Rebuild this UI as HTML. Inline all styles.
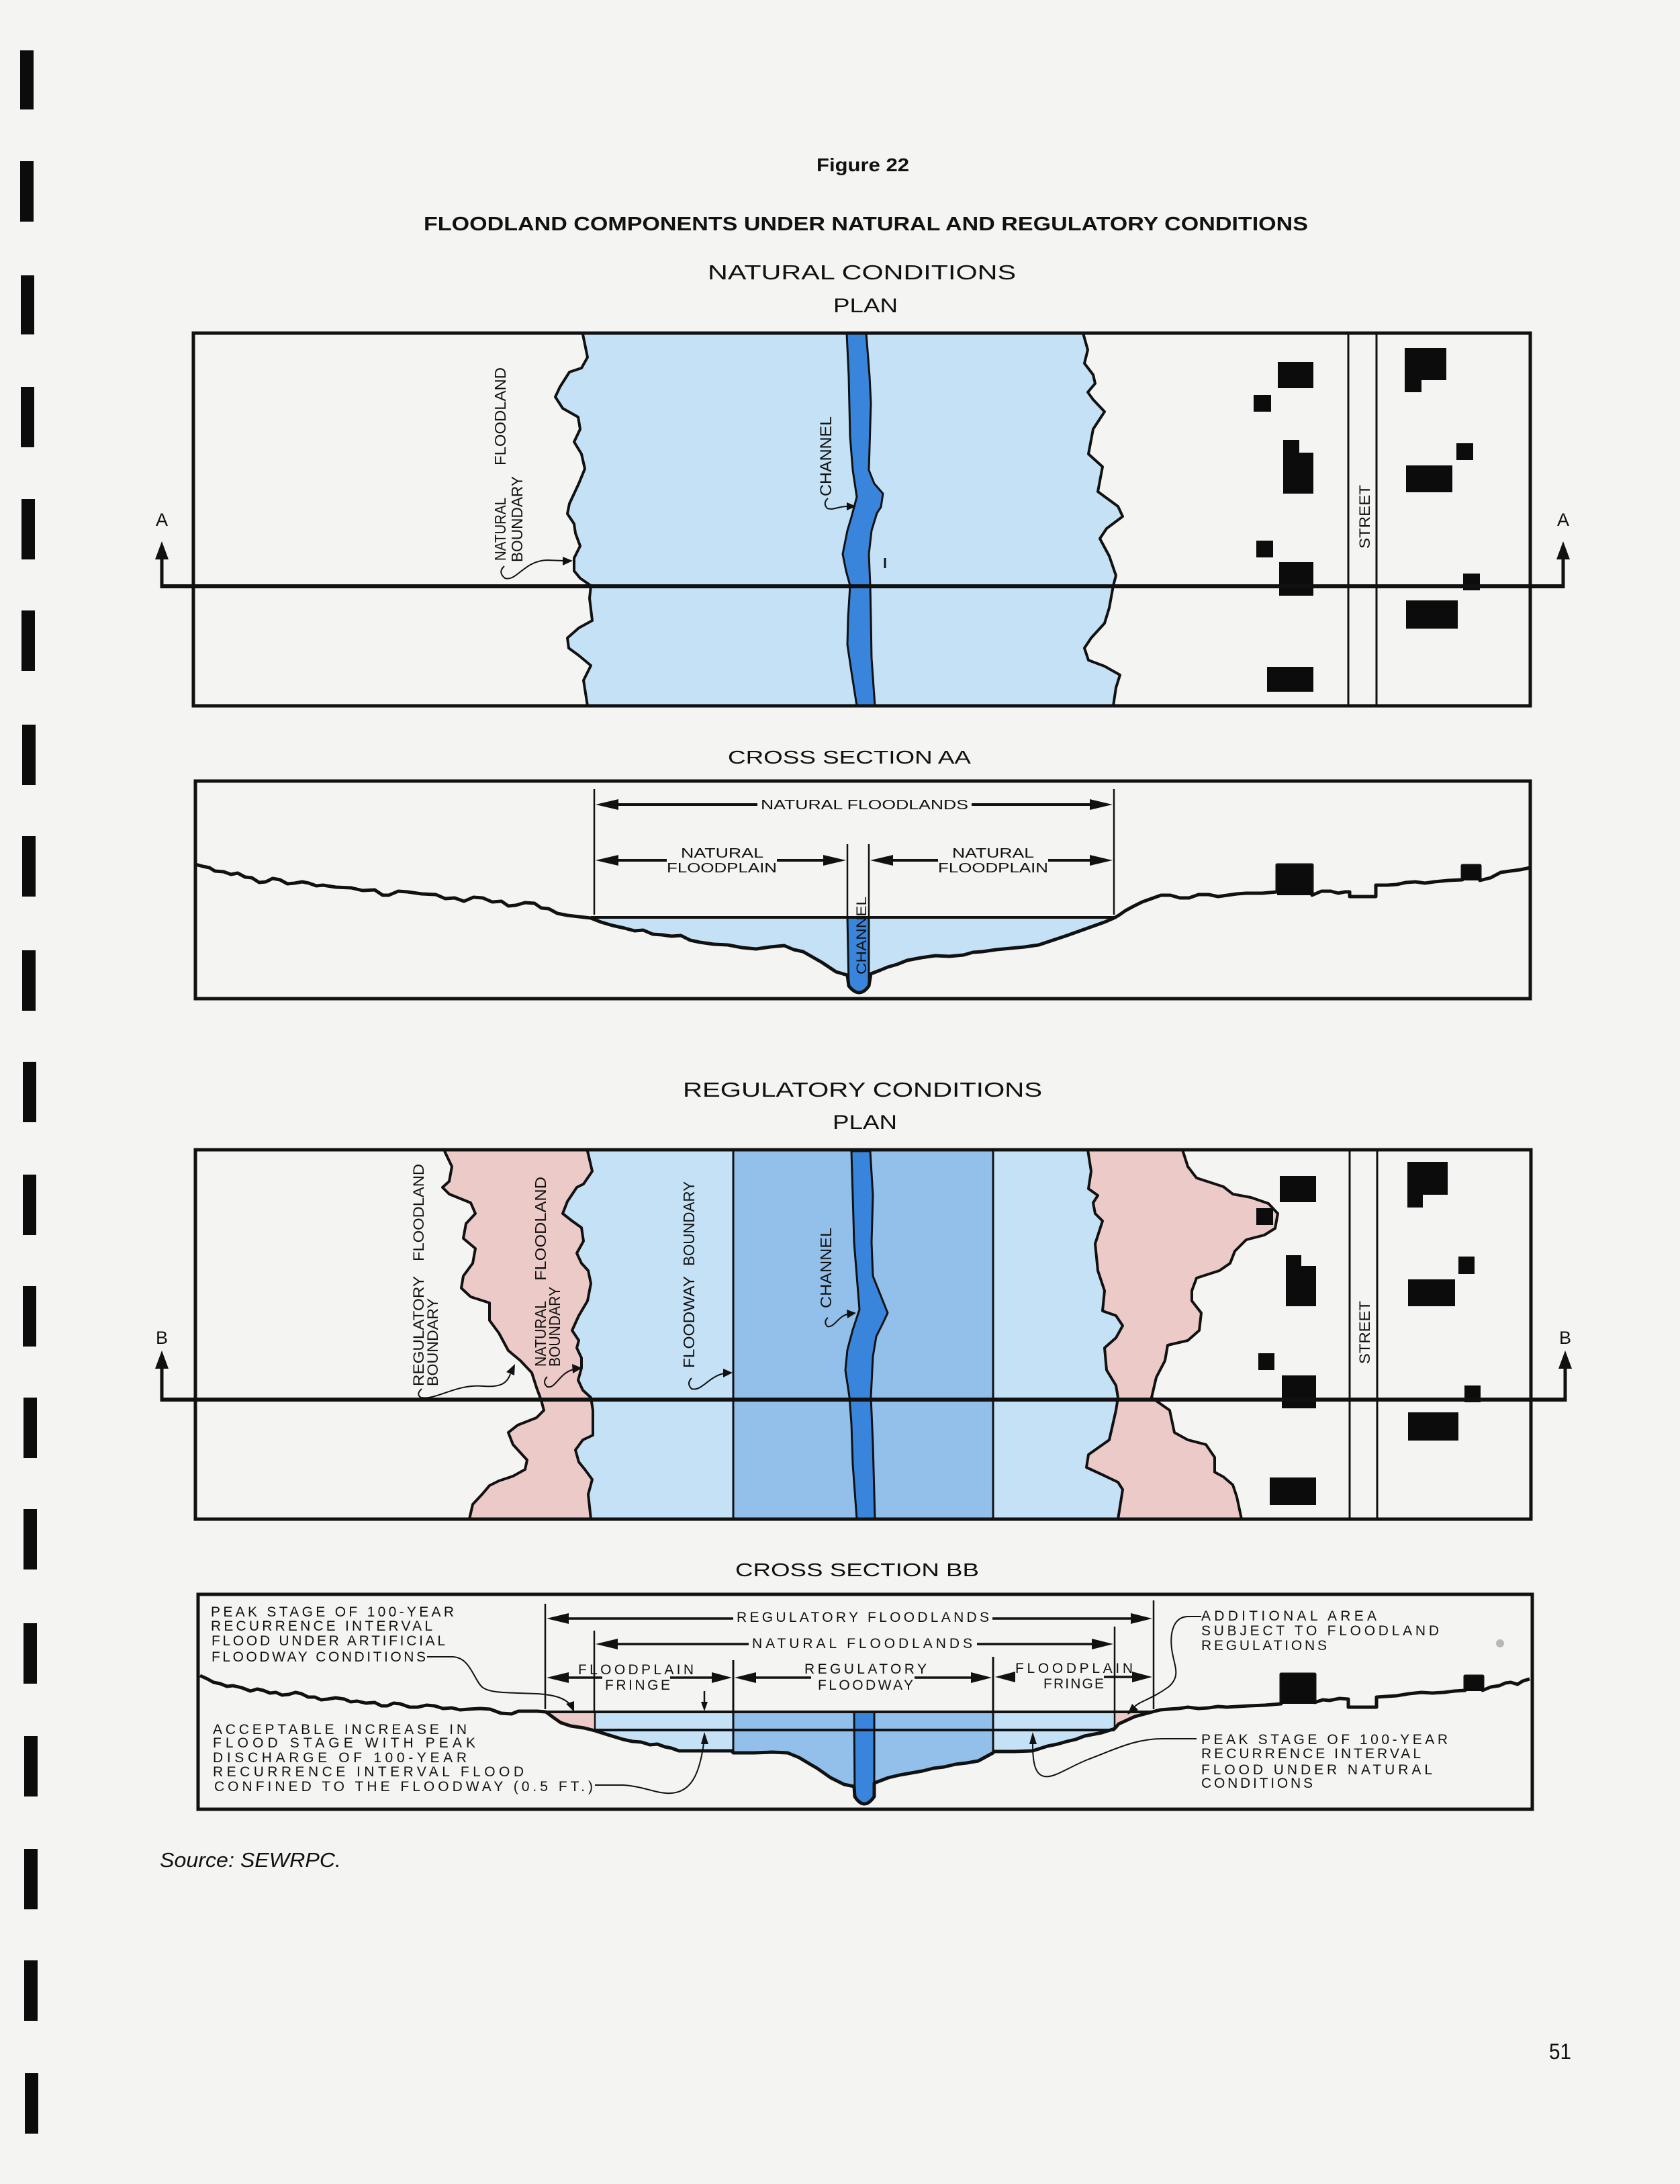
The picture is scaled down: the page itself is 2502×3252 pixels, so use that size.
<!DOCTYPE html>
<html><head><meta charset="utf-8">
<style>
html,body{margin:0;padding:0;background:#f4f4f2;}
svg{display:block}
text{font-family:"Liberation Sans",sans-serif;fill:#111}
</style></head><body>
<svg width="2502" height="3252" viewBox="0 0 2502 3252" xmlns="http://www.w3.org/2000/svg">
<rect width="2502" height="3252" fill="#f4f4f2"/>

<!-- binding bars -->
<g fill="#0c0c0c">
<rect x="30" y="75" width="20" height="88"/>
<rect x="30" y="240" width="20" height="90"/>
<rect x="31" y="410" width="20" height="88"/>
<rect x="31" y="576" width="20" height="90"/>
<rect x="32" y="743" width="20" height="90"/>
<rect x="32" y="909" width="20" height="90"/>
<rect x="33" y="1079" width="20" height="90"/>
<rect x="33" y="1245" width="20" height="90"/>
<rect x="33" y="1415" width="20" height="90"/>
<rect x="34" y="1581" width="20" height="90"/>
<rect x="34" y="1749" width="20" height="90"/>
<rect x="34" y="1915" width="20" height="90"/>
<rect x="35" y="2081" width="20" height="90"/>
<rect x="35" y="2247" width="20" height="90"/>
<rect x="35" y="2417" width="20" height="90"/>
<rect x="36" y="2585" width="20" height="90"/>
<rect x="36" y="2753" width="20" height="90"/>
<rect x="36" y="2919" width="20" height="90"/>
<rect x="37" y="3087" width="20" height="90"/>
</g>

<!-- titles -->
<text x="1216" y="255" font-size="28" font-weight="bold" textLength="138" lengthAdjust="spacingAndGlyphs">Figure 22</text>
<text x="631" y="343" font-size="29" font-weight="bold" textLength="1317" lengthAdjust="spacingAndGlyphs">FLOODLAND COMPONENTS UNDER NATURAL AND REGULATORY CONDITIONS</text>
<text x="1054" y="416" font-size="31" textLength="459" lengthAdjust="spacingAndGlyphs">NATURAL CONDITIONS</text>
<text x="1241" y="465" font-size="30" textLength="96" lengthAdjust="spacingAndGlyphs">PLAN</text>

<!-- ============ PLAN A ============ -->
<path d="M868,498 L875,532 L866,548 L848,554 L834,576 L827,591 L838,608 L861,621 L864,639 L855,658 L866,676 L871,698 L862,720 L848,750 L845,765 L855,780 L857,794 L864,813 L855,831 L855,850 L864,861 L880,872 L878,891 L882,924 L862,935 L845,950 L847,965 L862,976 L880,991 L869,1013 L875,1051 L1658,1051 L1662,1024 L1668,1005 L1645,992 L1621,983 L1615,965 L1625,950 L1645,928 L1652,905 L1658,872 L1662,857 L1652,828 L1638,802 L1648,787 L1672,769 L1665,754 L1635,732 L1642,695 L1621,676 L1628,639 L1645,613 L1628,595 L1620,584 L1631,571 L1628,558 L1615,541 L1620,521 L1613,496 Z" fill="#c4e1f5"/>
<g fill="none" stroke="#111" stroke-width="4" stroke-linejoin="round">
<path d="M868,498 L875,532 L866,548 L848,554 L834,576 L827,591 L838,608 L861,621 L864,639 L855,658 L866,676 L871,698 L862,720 L848,750 L845,765 L855,780 L857,794 L864,813 L855,831 L855,850 L864,861 L880,872 L878,891 L882,924 L862,935 L845,950 L847,965 L862,976 L880,991 L869,1013 L875,1051"/>
<path d="M1613,496 L1620,521 L1615,541 L1628,558 L1631,571 L1620,584 L1628,595 L1645,613 L1628,639 L1621,676 L1642,695 L1635,732 L1665,754 L1672,769 L1648,787 L1638,802 L1652,828 L1662,857 L1658,872 L1652,905 L1645,928 L1625,950 L1615,965 L1621,983 L1645,992 L1668,1005 L1662,1024 L1658,1051"/>
</g>
<path d="M1261,496 L1264,560 L1266,650 L1270,700 L1276,740 L1268,770 L1262,790 L1255,825 L1260,850 L1266,872 L1263,920 L1262,960 L1268,1000 L1276,1051 L1303,1051 L1298,980 L1297,920 L1296,872 L1294,825 L1298,790 L1306,764 L1312,755 L1315,735 L1302,720 L1294,700 L1297,600 L1295,560 L1290,496 Z" fill="#3a85dc" stroke="#111" stroke-width="3" stroke-linejoin="round"/>
<line x1="1318" y1="831" x2="1318" y2="846" stroke="#111" stroke-width="3"/>

<!-- street A -->
<line x1="2008" y1="496" x2="2008" y2="1051" stroke="#111" stroke-width="3"/>
<line x1="2050" y1="496" x2="2050" y2="1051" stroke="#111" stroke-width="3"/>
<text transform="translate(2040,817) rotate(-90)" font-size="22" textLength="95" lengthAdjust="spacingAndGlyphs">STREET</text>

<!-- buildings A -->
<g fill="#0c0c0c">
<rect x="1903" y="539" width="53" height="39"/>
<rect x="1867" y="588" width="26" height="25"/>
<rect x="1911" y="655" width="24" height="20"/>
<rect x="1911" y="674" width="45" height="61"/>
<rect x="1871" y="805" width="25" height="25"/>
<rect x="1905" y="837" width="51" height="50"/>
<rect x="1887" y="993" width="69" height="37"/>
<rect x="2092" y="518" width="62" height="48"/>
<rect x="2092" y="565" width="25" height="19"/>
<rect x="2169" y="660" width="25" height="25"/>
<rect x="2094" y="693" width="69" height="40"/>
<rect x="2179" y="854" width="25" height="25"/>
<rect x="2094" y="894" width="77" height="42"/>
</g>

<!-- section line A -->
<g stroke="#111" fill="none">
<line x1="239" y1="873" x2="2328" y2="873" stroke-width="6"/>
<line x1="241" y1="876" x2="241" y2="825" stroke-width="5"/>
<line x1="2328" y1="876" x2="2328" y2="825" stroke-width="5"/>
</g>
<polygon points="241,806 231,833 251,833" fill="#111"/>
<polygon points="2328,806 2318,833 2338,833" fill="#111"/>
<text x="241" y="783" font-size="27" text-anchor="middle">A</text>
<text x="2328" y="783" font-size="27" text-anchor="middle">A</text>

<!-- labels plan A -->
<text transform="translate(753,835) rotate(-90)" font-size="23" textLength="94" lengthAdjust="spacingAndGlyphs">NATURAL</text>
<text transform="translate(753,693) rotate(-90)" font-size="23" textLength="146" lengthAdjust="spacingAndGlyphs">FLOODLAND</text>
<text transform="translate(778,837) rotate(-90)" font-size="23" textLength="128" lengthAdjust="spacingAndGlyphs">BOUNDARY</text>
<path d="M751,843 Q741,852 752,861 C770,866 780,835 815,834 L840,835" fill="none" stroke="#111" stroke-width="2"/>
<polygon points="853,835 838,829 838,842" fill="#111"/>
<text transform="translate(1238,739) rotate(-90)" font-size="24" textLength="119" lengthAdjust="spacingAndGlyphs">CHANNEL</text>
<path d="M1233,742 Q1225,749 1232,757 C1242,760 1248,754 1262,754" fill="none" stroke="#111" stroke-width="2"/>
<polygon points="1275,754 1261,748 1261,760" fill="#111"/>

<rect x="288" y="496" width="1991" height="555" fill="none" stroke="#111" stroke-width="5"/>

<!-- ============ CROSS SECTION AA ============ -->
<text x="1084" y="1137" font-size="28" textLength="362" lengthAdjust="spacingAndGlyphs">CROSS SECTION AA</text>

<path d="M880,1366 L1663,1366 L1659,1367 L1645,1373 L1617,1383 L1589,1393 L1547,1407 L1505,1412 L1463,1417 L1435,1422 L1393,1423 L1351,1430 L1322,1440 L1297,1450 L1294,1452 L1262,1452 L1245,1447 L1224,1433 L1196,1417 L1168,1408 L1126,1413 L1084,1407 L1042,1403 L1014,1393 L986,1392 L958,1385 L930,1382 L895,1373 Z" fill="#c4e1f5"/>
<path d="M1262,1366 L1294,1366 L1294,1468 Q1280,1488 1264,1468 Z" fill="#3a85dc" stroke="#111" stroke-width="3"/>
<line x1="880" y1="1366" x2="1663" y2="1366" stroke="#111" stroke-width="4"/>
<path d="M291,1287 L302,1290 L312,1292 L320,1297 L333,1298 L344,1302 L354,1300 L365,1306 L375,1307 L386,1314 L396,1313 L406,1308 L417,1310 L428,1316 L439,1315 L450,1313 L460,1315 L471,1319 L481,1318 L500,1321 L523,1322 L540,1326 L558,1325 L570,1333 L579,1333 L593,1327 L607,1328 L628,1331 L649,1332 L663,1338 L677,1337 L691,1342 L705,1336 L719,1337 L733,1343 L747,1342 L757,1349 L768,1348 L782,1344 L796,1345 L806,1352 L817,1353 L830,1360 L845,1363 L880,1367 L895,1373 L912,1378 L930,1382 L945,1386 L958,1385 L972,1391 L986,1392 L1000,1394 L1014,1393 L1028,1400 L1042,1403 L1063,1406 L1084,1407 L1105,1411 L1126,1413 L1147,1410 L1168,1408 L1182,1414 L1196,1417 L1210,1425 L1224,1433 L1245,1447 L1262,1452 L1264,1468 Q1280,1488 1294,1468 L1297,1450 L1310,1445 L1322,1440 L1336,1436 L1351,1430 L1372,1426 L1393,1423 L1414,1424 L1435,1422 L1449,1418 L1463,1417 L1484,1414 L1505,1412 L1526,1410 L1547,1407 L1568,1400 L1589,1393 L1603,1388 L1617,1383 L1631,1378 L1645,1373 L1659,1367 L1666,1363 L1676,1356 L1687,1350 L1701,1343 L1715,1338 L1729,1333 L1743,1333 L1757,1337 L1771,1337 L1785,1332 L1800,1332 L1814,1335 L1828,1333 L1842,1331 L1856,1330 L1880,1330 L1902,1328 L1902,1288 L1954,1288 L1954,1333 L1968,1327 L1982,1327 L1993,1330 L2003,1328 L2010,1328 L2010,1335 L2049,1335 L2049,1318 L2066,1318 L2080,1317 L2094,1314 L2108,1313 L2122,1315 L2136,1313 L2157,1311 L2178,1310 L2178,1289 L2204,1289 L2204,1311 L2220,1307 L2235,1299 L2249,1297 L2264,1295 L2279,1292" fill="none" stroke="#111" stroke-width="5" stroke-linejoin="round"/>
<rect x="1902" y="1288" width="52" height="45" fill="#0c0c0c"/>
<rect x="2178" y="1289" width="26" height="22" fill="#0c0c0c"/>

<!-- dims AA -->
<g stroke="#111" stroke-width="2.5">
<line x1="885" y1="1175" x2="885" y2="1362"/>
<line x1="1659" y1="1175" x2="1659" y2="1362"/>
<line x1="1262" y1="1257" x2="1262" y2="1366"/>
<line x1="1294" y1="1257" x2="1294" y2="1366"/>
<line x1="918" y1="1198" x2="1128" y2="1198" stroke-width="4"/>
<line x1="1447" y1="1198" x2="1626" y2="1198" stroke-width="4"/>
<line x1="918" y1="1281" x2="993" y2="1281" stroke-width="4"/>
<line x1="1157" y1="1281" x2="1229" y2="1281" stroke-width="4"/>
<line x1="1327" y1="1281" x2="1397" y2="1281" stroke-width="4"/>
<line x1="1561" y1="1281" x2="1626" y2="1281" stroke-width="4"/>
</g>
<g fill="#111">
<polygon points="887,1198 921,1190 921,1206"/>
<polygon points="1657,1198 1623,1190 1623,1206"/>
<polygon points="887,1281 921,1273 921,1289"/>
<polygon points="1260,1281 1226,1273 1226,1289"/>
<polygon points="1296,1281 1330,1273 1330,1289"/>
<polygon points="1657,1281 1623,1273 1623,1289"/>
</g>
<text x="1133" y="1205" font-size="20" textLength="309" lengthAdjust="spacingAndGlyphs">NATURAL FLOODLANDS</text>
<text x="1014" y="1277" font-size="20" textLength="123" lengthAdjust="spacingAndGlyphs">NATURAL</text>
<text x="993" y="1299" font-size="20" textLength="164" lengthAdjust="spacingAndGlyphs">FLOODPLAIN</text>
<text x="1418" y="1277" font-size="20" textLength="122" lengthAdjust="spacingAndGlyphs">NATURAL</text>
<text x="1397" y="1299" font-size="20" textLength="164" lengthAdjust="spacingAndGlyphs">FLOODPLAIN</text>
<text transform="translate(1290,1451) rotate(-90)" font-size="21" textLength="116" lengthAdjust="spacingAndGlyphs">CHANNEL</text>

<rect x="291" y="1163" width="1988" height="324" fill="none" stroke="#111" stroke-width="5"/>

<!-- ============ REGULATORY PLAN B ============ -->
<text x="1017" y="1633" font-size="31" textLength="535" lengthAdjust="spacingAndGlyphs">REGULATORY CONDITIONS</text>
<text x="1240" y="1681" font-size="30" textLength="96" lengthAdjust="spacingAndGlyphs">PLAN</text>

<path d="M662,1714 L673,1737 L669,1759 L659,1768 L669,1778 L701,1791 L708,1807 L694,1822 L690,1844 L708,1859 L704,1881 L690,1900 L687,1918 L701,1931 L729,1940 L729,1966 L743,1985 L757,2011 L775,2026 L792,2044 L799,2066 L806,2085 L810,2100 L799,2111 L771,2122 L757,2133 L764,2151 L785,2174 L782,2188 L764,2198 L743,2205 L729,2212 L718,2225 L704,2240 L699,2262 L1849,2262 L1842,2229 L1836,2211 L1822,2199 L1809,2192 L1809,2170 L1796,2151 L1769,2144 L1749,2133 L1742,2100 L1715,2081 L1722,2051 L1735,2026 L1739,2003 L1769,1996 L1786,1981 L1789,1955 L1775,1937 L1775,1922 L1782,1903 L1816,1892 L1832,1881 L1839,1863 L1856,1846 L1883,1839 L1899,1829 L1903,1807 L1889,1792 L1863,1783 L1836,1778 L1822,1767 L1782,1754 L1769,1737 L1761,1712 Z" fill="#eccac8"/>
<path d="M875,1714 L882,1744 L869,1763 L859,1768 L845,1789 L838,1807 L852,1818 L866,1828 L869,1848 L859,1866 L866,1881 L876,1892 L880,1911 L875,1937 L862,1959 L852,1981 L862,1996 L859,2007 L866,2022 L866,2037 L861,2055 L868,2070 L880,2081 L883,2100 L883,2137 L868,2144 L857,2159 L862,2177 L871,2188 L882,2203 L876,2225 L880,2262 L1665,2262 L1672,2218 L1665,2207 L1642,2196 L1618,2185 L1621,2166 L1652,2144 L1662,2100 L1665,2081 L1662,2063 L1648,2040 L1645,2007 L1662,1992 L1672,1974 L1662,1959 L1642,1952 L1645,1922 L1635,1892 L1631,1852 L1642,1818 L1631,1807 L1628,1791 L1635,1780 L1621,1770 L1625,1744 L1620,1712 Z" fill="#c4e1f5"/>
<rect x="1092" y="1712" width="387" height="550" fill="#92c0ea"/>
<g fill="none" stroke="#111" stroke-width="4" stroke-linejoin="round">
<path d="M662,1714 L673,1737 L669,1759 L659,1768 L669,1778 L701,1791 L708,1807 L694,1822 L690,1844 L708,1859 L704,1881 L690,1900 L687,1918 L701,1931 L729,1940 L729,1966 L743,1985 L757,2011 L775,2026 L792,2044 L799,2066 L806,2085 L810,2100 L799,2111 L771,2122 L757,2133 L764,2151 L785,2174 L782,2188 L764,2198 L743,2205 L729,2212 L718,2225 L704,2240 L699,2262"/>
<path d="M875,1714 L882,1744 L869,1763 L859,1768 L845,1789 L838,1807 L852,1818 L866,1828 L869,1848 L859,1866 L866,1881 L876,1892 L880,1911 L875,1937 L862,1959 L852,1981 L862,1996 L859,2007 L866,2022 L866,2037 L861,2055 L868,2070 L880,2081 L883,2100 L883,2137 L868,2144 L857,2159 L862,2177 L871,2188 L882,2203 L876,2225 L880,2262"/>
<path d="M1620,1712 L1625,1744 L1621,1770 L1635,1780 L1628,1791 L1631,1807 L1642,1818 L1631,1852 L1635,1892 L1645,1922 L1642,1952 L1662,1959 L1672,1974 L1662,1992 L1645,2007 L1648,2040 L1662,2063 L1665,2081 L1662,2100 L1652,2144 L1621,2166 L1618,2185 L1642,2196 L1665,2207 L1672,2218 L1665,2262"/>
<path d="M1761,1712 L1769,1737 L1782,1754 L1822,1767 L1836,1778 L1863,1783 L1889,1792 L1903,1807 L1899,1829 L1883,1839 L1856,1846 L1839,1863 L1832,1881 L1816,1892 L1782,1903 L1775,1922 L1775,1937 L1789,1955 L1786,1981 L1769,1996 L1739,2003 L1735,2026 L1722,2051 L1715,2081 L1742,2100 L1749,2133 L1769,2144 L1796,2151 L1809,2170 L1809,2192 L1822,2199 L1836,2211 L1842,2229 L1849,2262"/>
</g>
<line x1="1092" y1="1712" x2="1092" y2="2262" stroke="#111" stroke-width="3"/>
<line x1="1479" y1="1712" x2="1479" y2="2262" stroke="#111" stroke-width="3"/>
<path d="M1268,1714 L1270,1780 L1272,1850 L1276,1900 L1280,1950 L1270,1980 L1262,2010 L1259,2040 L1265,2080 L1268,2120 L1270,2180 L1276,2262 L1303,2262 L1300,2150 L1297,2080 L1300,2020 L1305,1990 L1315,1970 L1322,1955 L1312,1930 L1300,1900 L1298,1850 L1300,1780 L1296,1714 Z" fill="#3a85dc" stroke="#111" stroke-width="3" stroke-linejoin="round"/>

<!-- street B -->
<line x1="2010" y1="1712" x2="2010" y2="2262" stroke="#111" stroke-width="3"/>
<line x1="2051" y1="1712" x2="2051" y2="2262" stroke="#111" stroke-width="3"/>
<text transform="translate(2040,2031) rotate(-90)" font-size="22" textLength="94" lengthAdjust="spacingAndGlyphs">STREET</text>

<!-- buildings B -->
<g fill="#0c0c0c">
<rect x="1906" y="1751" width="54" height="39"/>
<rect x="1871" y="1799" width="25" height="25"/>
<rect x="1915" y="1869" width="23" height="17"/>
<rect x="1915" y="1885" width="45" height="60"/>
<rect x="1874" y="2015" width="24" height="25"/>
<rect x="1909" y="2048" width="51" height="49"/>
<rect x="1891" y="2200" width="69" height="41"/>
<rect x="2096" y="1730" width="60" height="49"/>
<rect x="2096" y="1778" width="23" height="20"/>
<rect x="2172" y="1871" width="24" height="26"/>
<rect x="2097" y="1905" width="70" height="40"/>
<rect x="2181" y="2063" width="24" height="25"/>
<rect x="2097" y="2103" width="75" height="42"/>
</g>

<!-- section line B -->
<g stroke="#111" fill="none">
<line x1="239" y1="2084" x2="2331" y2="2084" stroke-width="6"/>
<line x1="241" y1="2087" x2="241" y2="2036" stroke-width="5"/>
<line x1="2331" y1="2087" x2="2331" y2="2036" stroke-width="5"/>
</g>
<polygon points="241,2011 231,2038 251,2038" fill="#111"/>
<polygon points="2331,2011 2321,2038 2341,2038" fill="#111"/>
<text x="241" y="2001" font-size="27" text-anchor="middle">B</text>
<text x="2331" y="2001" font-size="27" text-anchor="middle">B</text>

<!-- labels plan B -->
<text transform="translate(631,2064) rotate(-90)" font-size="22" textLength="164" lengthAdjust="spacingAndGlyphs">REGULATORY</text>
<text transform="translate(631,1878) rotate(-90)" font-size="22" textLength="145" lengthAdjust="spacingAndGlyphs">FLOODLAND</text>
<text transform="translate(652,2064) rotate(-90)" font-size="22" textLength="131" lengthAdjust="spacingAndGlyphs">BOUNDARY</text>
<path d="M628,2068 Q619,2076 627,2081 C650,2085 680,2060 720,2064 C745,2066 755,2060 760,2046" fill="none" stroke="#111" stroke-width="2"/>
<polygon points="767,2031 754,2043 766,2048" fill="#111"/>

<text transform="translate(813,2035) rotate(-90)" font-size="23" textLength="98" lengthAdjust="spacingAndGlyphs">NATURAL</text>
<text transform="translate(813,1907) rotate(-90)" font-size="23" textLength="155" lengthAdjust="spacingAndGlyphs">FLOODLAND</text>
<text transform="translate(834,2035) rotate(-90)" font-size="23" textLength="119" lengthAdjust="spacingAndGlyphs">BOUNDARY</text>
<path d="M815,2050 Q807,2058 815,2065 C828,2068 832,2045 854,2039" fill="none" stroke="#111" stroke-width="2"/>
<polygon points="867,2037 852,2031 853,2045" fill="#111"/>

<text transform="translate(1034,2037) rotate(-90)" font-size="23" textLength="137" lengthAdjust="spacingAndGlyphs">FLOODWAY</text>
<text transform="translate(1034,1885) rotate(-90)" font-size="23" textLength="126" lengthAdjust="spacingAndGlyphs">BOUNDARY</text>
<path d="M1030,2052 Q1022,2060 1030,2068 C1045,2072 1055,2050 1078,2045" fill="none" stroke="#111" stroke-width="2"/>
<polygon points="1091,2044 1077,2038 1077,2051" fill="#111"/>

<text transform="translate(1238,1948) rotate(-90)" font-size="23" textLength="120" lengthAdjust="spacingAndGlyphs">CHANNEL</text>
<path d="M1233,1962 Q1226,1968 1232,1975 C1242,1978 1248,1960 1262,1957" fill="none" stroke="#111" stroke-width="2"/>
<polygon points="1275,1955 1261,1950 1262,1963" fill="#111"/>

<rect x="291" y="1712" width="1989" height="550" fill="none" stroke="#111" stroke-width="5"/>

<!-- ============ CROSS SECTION BB ============ -->
<text x="1095" y="2347" font-size="28" textLength="363" lengthAdjust="spacingAndGlyphs">CROSS SECTION BB</text>

<path d="M813,2549 L886,2549 L886,2577 L870,2573 L850,2570 L835,2565 L825,2558 Z" fill="#eccac8"/>
<path d="M886,2549 L1092,2549 L1092,2607 L1011,2607 L1000,2603 L979,2597 L955,2594 L928,2590 L905,2583 L886,2577 Z" fill="#c4e1f5"/>
<path d="M1092,2549 L1479,2549 L1479,2610 L1457,2622 L1423,2627 L1390,2633 L1357,2640 L1323,2647 L1302,2655 L1272,2660 L1257,2657 L1237,2647 L1217,2633 L1190,2617 L1173,2610 L1092,2610 Z" fill="#92c0ea"/>
<path d="M1479,2549 L1660,2549 L1660,2574 L1641,2580 L1615,2585 L1589,2593 L1560,2600 L1538,2607 L1480,2608 Z" fill="#c4e1f5"/>
<path d="M1660,2549 L1716,2549 L1690,2556 L1666,2567 L1660,2574 Z" fill="#eccac8"/>
<path d="M1272,2549 L1302,2549 L1302,2675 Q1287,2697 1273,2675 Z" fill="#3a85dc" stroke="#111" stroke-width="3"/>
<line x1="813" y1="2549" x2="1716" y2="2549" stroke="#111" stroke-width="4"/>
<line x1="886" y1="2576" x2="1660" y2="2576" stroke="#111" stroke-width="4"/>
<line x1="1092" y1="2472" x2="1092" y2="2610" stroke="#111" stroke-width="3"/>
<line x1="1479" y1="2467" x2="1479" y2="2610" stroke="#111" stroke-width="3"/>
<line x1="886" y1="2549" x2="886" y2="2577" stroke="#111" stroke-width="2.5"/>
<line x1="1660" y1="2549" x2="1660" y2="2576" stroke="#111" stroke-width="2.5"/>

<path d="M298,2495 L309,2500 L318,2505 L328,2507 L338,2511 L347,2510 L360,2513 L373,2518 L383,2515 L392,2517 L402,2521 L411,2520 L420,2524 L430,2523 L440,2520 L449,2522 L459,2527 L469,2527 L478,2531 L488,2530 L500,2528 L513,2530 L522,2534 L532,2533 L545,2536 L558,2535 L568,2540 L577,2540 L586,2536 L596,2537 L610,2542 L622,2542 L635,2539 L647,2540 L660,2544 L673,2543 L685,2546 L698,2545 L715,2544 L730,2545 L746,2551 L762,2552 L772,2548 L781,2548 L800,2548 L813,2549 L825,2558 L835,2565 L850,2570 L870,2573 L886,2577 L905,2583 L928,2590 L942,2593 L955,2594 L968,2598 L979,2597 L990,2601 L1000,2603 L1011,2607 L1090,2607 L1092,2610 L1123,2610 L1150,2609 L1173,2610 L1190,2617 L1205,2626 L1217,2633 L1237,2647 L1257,2657 L1272,2660 L1273,2675 Q1287,2697 1302,2675 L1302,2655 L1323,2647 L1340,2643 L1357,2640 L1374,2637 L1390,2633 L1406,2631 L1423,2627 L1440,2625 L1457,2622 L1479,2610 L1480,2608 L1510,2608 L1538,2607 L1560,2600 L1575,2597 L1589,2593 L1602,2590 L1615,2585 L1641,2580 L1660,2574 L1666,2567 L1690,2556 L1716,2549 L1728,2546 L1740,2545 L1755,2544 L1769,2542 L1785,2544 L1800,2543 L1814,2541 L1827,2542 L1843,2541 L1860,2540 L1884,2539 L1908,2537 L1908,2493 L1958,2493 L1958,2535 L1970,2531 L1980,2532 L1995,2529 L2008,2530 L2008,2542 L2050,2542 L2050,2527 L2065,2526 L2080,2525 L2098,2522 L2117,2520 L2133,2521 L2150,2520 L2166,2518 L2182,2517 L2182,2496 L2208,2496 L2208,2517 L2220,2512 L2233,2510 L2242,2506 L2250,2505 L2260,2508 L2268,2503 L2278,2500" fill="none" stroke="#111" stroke-width="5" stroke-linejoin="round"/>
<rect x="1908" y="2493" width="50" height="44" fill="#0c0c0c"/>
<rect x="2182" y="2496" width="26" height="22" fill="#0c0c0c"/>

<!-- dims BB -->
<g stroke="#111" stroke-width="2.5">
<line x1="812" y1="2388" x2="812" y2="2545"/>
<line x1="885" y1="2428" x2="885" y2="2549"/>
<line x1="1660" y1="2422" x2="1660" y2="2549"/>
<line x1="1718" y1="2383" x2="1718" y2="2545"/>
<line x1="845" y1="2410" x2="1092" y2="2410" stroke-width="3.5"/>
<line x1="1478" y1="2410" x2="1686" y2="2410" stroke-width="3.5"/>
<line x1="918" y1="2448" x2="1115" y2="2448" stroke-width="3.5"/>
<line x1="1455" y1="2448" x2="1628" y2="2448" stroke-width="3.5"/>
<line x1="845" y1="2498" x2="897" y2="2498" stroke-width="3.5"/>
<line x1="998" y1="2498" x2="1062" y2="2498" stroke-width="3.5"/>
<line x1="1124" y1="2498" x2="1208" y2="2498" stroke-width="3.5"/>
<line x1="1362" y1="2498" x2="1448" y2="2498" stroke-width="3.5"/>
<line x1="1644" y1="2497" x2="1688" y2="2497" stroke-width="3.5"/>
<line x1="1049" y1="2518" x2="1049" y2="2538" stroke-width="2.5"/>
</g>
<g fill="#111">
<polygon points="814,2410 847,2402 847,2418"/>
<polygon points="1716,2410 1684,2402 1684,2418"/>
<polygon points="887,2448 920,2440 920,2456"/>
<polygon points="1658,2448 1626,2440 1626,2456"/>
<polygon points="814,2498 847,2490 847,2506"/>
<polygon points="1090,2498 1060,2490 1060,2506"/>
<polygon points="1094,2498 1126,2490 1126,2506"/>
<polygon points="1477,2498 1446,2490 1446,2506"/>
<polygon points="1482,2497 1512,2489 1512,2505"/>
<polygon points="1716,2497 1686,2489 1686,2505"/>
<polygon points="1049,2548 1044,2534 1054,2534"/>
</g>
<text x="1097" y="2415" font-size="21" textLength="376" lengthAdjust="spacing">REGULATORY   FLOODLANDS</text>
<text x="1120" y="2454" font-size="21" textLength="328" lengthAdjust="spacing">NATURAL   FLOODLANDS</text>
<text x="861" y="2493" font-size="21" textLength="172" lengthAdjust="spacing">FLOODPLAIN</text>
<text x="901" y="2516" font-size="21" textLength="97" lengthAdjust="spacing">FRINGE</text>
<text x="1198" y="2492" font-size="21" textLength="182" lengthAdjust="spacing">REGULATORY</text>
<text x="1218" y="2516" font-size="21" textLength="142" lengthAdjust="spacing">FLOODWAY</text>
<text x="1512" y="2491" font-size="21" textLength="175" lengthAdjust="spacing">FLOODPLAIN</text>
<text x="1554" y="2514" font-size="21" textLength="90" lengthAdjust="spacing">FRINGE</text>

<!-- BB annotation text -->
<g font-size="21">
<text x="314" y="2407" textLength="362" lengthAdjust="spacing">PEAK STAGE OF 100-YEAR</text>
<text x="314" y="2428" textLength="330" lengthAdjust="spacing">RECURRENCE INTERVAL</text>
<text x="315" y="2450" textLength="348" lengthAdjust="spacing">FLOOD UNDER ARTIFICIAL</text>
<text x="315" y="2474" textLength="319" lengthAdjust="spacing">FLOODWAY CONDITIONS</text>
<text x="317" y="2582" textLength="378" lengthAdjust="spacing">ACCEPTABLE INCREASE IN</text>
<text x="317" y="2602" textLength="391" lengthAdjust="spacing">FLOOD STAGE WITH PEAK</text>
<text x="317" y="2624" textLength="378" lengthAdjust="spacing">DISCHARGE OF 100-YEAR</text>
<text x="317" y="2645" textLength="463" lengthAdjust="spacing">RECURRENCE INTERVAL FLOOD</text>
<text x="319" y="2667" textLength="564" lengthAdjust="spacing">CONFINED TO THE FLOODWAY (0.5 FT.)</text>
<text x="1789" y="2413" textLength="261" lengthAdjust="spacing">ADDITIONAL AREA</text>
<text x="1789" y="2435" textLength="354" lengthAdjust="spacing">SUBJECT TO FLOODLAND</text>
<text x="1789" y="2457" textLength="187" lengthAdjust="spacing">REGULATIONS</text>
<text x="1789" y="2597" textLength="367" lengthAdjust="spacing">PEAK STAGE OF 100-YEAR</text>
<text x="1789" y="2618" textLength="327" lengthAdjust="spacing">RECURRENCE INTERVAL</text>
<text x="1789" y="2642" textLength="344" lengthAdjust="spacing">FLOOD UNDER NATURAL</text>
<text x="1789" y="2662" textLength="166" lengthAdjust="spacing">CONDITIONS</text>
</g>

<!-- leaders BB -->
<g fill="none" stroke="#111" stroke-width="2">
<path d="M636,2467 L673,2467 C700,2467 705,2500 718,2512 C730,2522 760,2520 800,2522 C830,2524 842,2530 849,2538"/>
<path d="M886,2658 L928,2658 C960,2660 980,2672 1000,2670 C1030,2668 1042,2640 1048,2596"/>
<path d="M1789,2407 L1770,2407 C1748,2407 1742,2430 1745,2455 C1748,2480 1760,2495 1740,2512 C1715,2530 1698,2533 1690,2541"/>
<path d="M1782,2589 L1731,2589 C1690,2589 1660,2605 1620,2620 C1590,2632 1570,2648 1555,2645 C1540,2642 1538,2620 1538,2596"/>
</g>
<g fill="#111">
<polygon points="855,2549 843,2537 855,2533"/>
<polygon points="1049,2579 1044,2597 1055,2597"/>
<polygon points="1679,2553 1686,2537 1695,2546"/>
<polygon points="1538,2579 1533,2597 1544,2597"/>
</g>
<circle cx="2234" cy="2447" r="6" fill="#b8b8b8"/>

<rect x="295" y="2374" width="1987" height="320" fill="none" stroke="#111" stroke-width="5"/>

<!-- footer -->
<text x="238" y="2780" font-size="31" font-style="italic" textLength="270" lengthAdjust="spacingAndGlyphs">Source:  SEWRPC.</text>
<text x="2307" y="3066" font-size="33" textLength="33" lengthAdjust="spacingAndGlyphs">51</text>
</svg>
</body></html>
